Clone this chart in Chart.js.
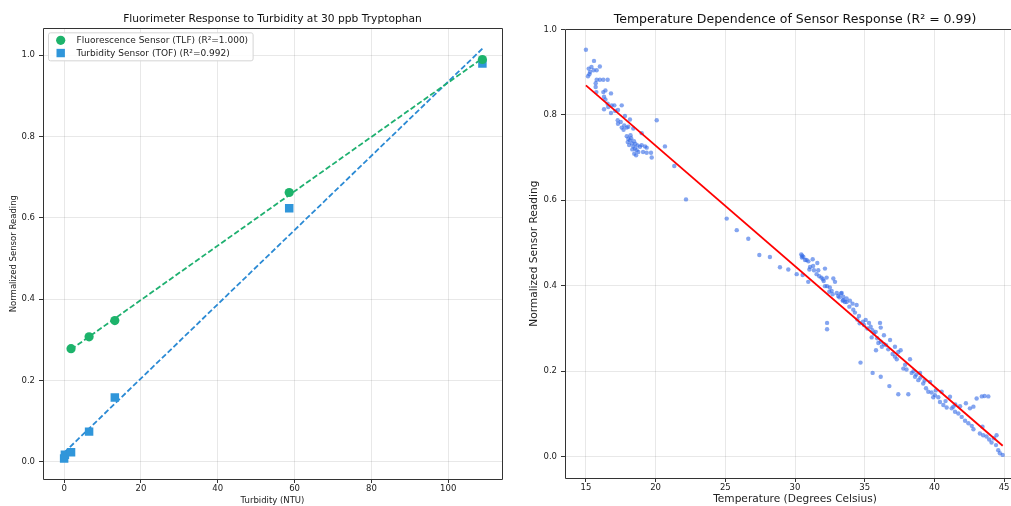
<!DOCTYPE html>
<html>
<head>
<meta charset="utf-8">
<script src="https://cdn.jsdelivr.net/npm/chart.js@4.4.1/dist/chart.umd.min.js"></script>
<style>
html, body { margin: 0; padding: 0; background: #fff; overflow: hidden; width: 1011px; height: 506px; }
#left { position: absolute; left: 0; top: 0; }
#rightWrap { position: absolute; left: 515px; top: 0; width: 496px; height: 506px; overflow: hidden; }
#right { position: absolute; left: 0; top: 0; }
</style>
</head>
<body>
<canvas id="left" width="510" height="506"></canvas>
<div id="rightWrap"><canvas id="right" width="520" height="506"></canvas></div>
<script>
// --- left chart data (turbidity response) ---
const tlfTurbidity = [1.8, 6.5, 13.2, 58.6, 108.9];
const tlfReading   = [0.278, 0.307, 0.347, 0.662, 0.989];
const tofTurbidity = [0, 0.2, 1.8, 6.5, 13.2, 58.6, 108.9];
const tofReading   = [0.008, 0.017, 0.023, 0.074, 0.158, 0.623, 0.979];
const tlfLabel = "Fluorescence Sensor (TLF) (R\u00b2=1.000)";
const tofLabel = "Turbidity Sensor (TOF) (R\u00b2=0.992)";
const leftXTicks = [0, 20, 40, 60, 80, 100];
const leftYTicks = [0, 0.2, 0.4, 0.6, 0.8, 1.0];

// --- right chart data (temperature dependence) ---
const tempC = [
  15.0, 15.58, 16.0, 15.2, 15.3, 15.25, 15.4, 15.55, 15.77, 15.15,
  15.77, 16.0, 16.25, 16.56, 15.7, 15.7, 15.75, 16.25, 16.4, 16.8,
  16.3, 16.4, 16.56, 16.6, 16.3, 16.85, 17.04, 17.57, 16.8, 17.1,
  17.3, 17.28, 17.3, 17.5, 17.8, 18.16, 17.57, 17.7, 17.93, 18.04,
  17.75, 18.4, 19.0, 20.08,
  17.93, 18.04, 18.16, 18.0, 18.3, 18.4, 18.1, 18.52, 18.64, 18.33,
  18.47, 18.76, 18.88, 19.0, 19.24, 19.36, 19.1, 19.36, 19.67, 19.72,
  18.6, 18.2, 18.45, 18.7, 18.25, 18.55, 20.67, 21.34, 22.18,
  25.1, 25.82, 26.65, 27.44, 28.2, 28.92, 29.52, 30.12, 30.55, 30.95,
  30.45, 30.52, 30.6, 30.5, 30.83, 30.72, 30.96, 31.27, 31.6, 32.15,
  31.08, 31.03, 31.3, 31.36, 31.67, 31.55, 31.74, 31.9, 32.0, 32.27,
  32.06, 32.3, 32.5, 32.15, 32.63, 32.75, 32.87, 32.46, 32.7, 33.0,
  33.1, 33.35, 33.18, 33.46, 33.7, 32.3, 32.3,
  33.3, 33.46, 33.7, 33.58, 33.94, 34.13, 34.42, 33.9, 34.18, 34.3,
  33.42, 34.59, 34.47, 34.64, 34.88, 35.07, 34.95, 35.31, 35.43, 35.19,
  35.55, 35.67, 35.79, 35.5, 35.9, 35.98, 36.15, 36.39, 36.23, 36.53,
  36.69, 35.81, 36.82, 36.15, 36.38, 36.1, 37.17, 37.41, 37.58, 37.17,
  37.77, 38.0, 38.25, 38.37, 38.61, 38.97, 38.85, 39.2, 39.4, 39.69,
  39.56, 39.8, 40.04, 39.92, 40.28, 40.4, 40.64, 40.52, 41.12, 40.88,
  41.24, 41.48, 41.36, 41.84, 41.72, 41.96, 42.2, 42.44, 42.68, 42.8,
  42.26, 42.55, 42.8, 43.03, 43.4, 43.6, 43.87, 43.45, 43.26, 43.5,
  43.74, 43.93, 44.1, 44.27, 44.42, 44.58, 44.7, 44.9, 44.46,
  37.0, 37.3, 37.9, 38.5, 39.0, 39.3, 38.7, 40.1, 40.8, 41.5,
  34.7, 35.57, 36.15, 36.77, 37.41, 38.13
];
const reading = [
  0.952, 0.926, 0.913, 0.908, 0.900, 0.895, 0.912, 0.904, 0.904, 0.890,
  0.882, 0.882, 0.882, 0.882, 0.874, 0.865, 0.853, 0.853, 0.857, 0.850,
  0.842, 0.836, 0.826, 0.818, 0.813, 0.822, 0.822, 0.822, 0.804, 0.809,
  0.811, 0.787, 0.779, 0.783, 0.797, 0.789, 0.770, 0.765, 0.770, 0.772,
  0.775, 0.768, 0.757, 0.787,
  0.750, 0.744, 0.740, 0.736, 0.733, 0.726, 0.729, 0.721, 0.717, 0.719,
  0.709, 0.713, 0.725, 0.729, 0.726, 0.723, 0.713, 0.711, 0.711, 0.700,
  0.705, 0.752, 0.738, 0.728, 0.745, 0.732, 0.726, 0.680, 0.602,
  0.557, 0.530, 0.510, 0.472, 0.467, 0.443, 0.438, 0.427, 0.425, 0.409,
  0.473, 0.470, 0.467, 0.466, 0.460, 0.460, 0.457, 0.462, 0.453, 0.440,
  0.444, 0.438, 0.446, 0.436, 0.436, 0.427, 0.422, 0.419, 0.415, 0.419,
  0.411, 0.399, 0.396, 0.399, 0.388, 0.417, 0.409, 0.386, 0.380, 0.383,
  0.376, 0.383, 0.373, 0.366, 0.362, 0.313, 0.298,
  0.382, 0.374, 0.370, 0.362, 0.365, 0.358, 0.355, 0.351, 0.344, 0.337,
  0.365, 0.329, 0.321, 0.312, 0.316, 0.320, 0.308, 0.313, 0.304, 0.300,
  0.296, 0.288, 0.292, 0.279, 0.277, 0.266, 0.269, 0.263, 0.257, 0.261,
  0.251, 0.249, 0.273, 0.302, 0.284, 0.313, 0.257, 0.245, 0.249, 0.234,
  0.206, 0.204, 0.228, 0.196, 0.187, 0.196, 0.179, 0.171, 0.160, 0.175,
  0.152, 0.150, 0.144, 0.139, 0.139, 0.128, 0.121, 0.152, 0.140, 0.115,
  0.113, 0.105, 0.117, 0.118, 0.101, 0.093, 0.084, 0.078, 0.072, 0.064,
  0.125, 0.113, 0.117, 0.136, 0.141, 0.142, 0.141, 0.070, 0.054, 0.050,
  0.047, 0.040, 0.033, 0.043, 0.027, 0.015, 0.008, 0.004, 0.050,
  0.240, 0.228, 0.215, 0.200, 0.185, 0.178, 0.192, 0.155, 0.130, 0.122,
  0.220, 0.196, 0.187, 0.165, 0.146, 0.146
];
const rightTitle = "Temperature Dependence of Sensor Response (R\u00b2 = 0.99)";
const rightXTicks = [15, 20, 25, 30, 35, 40, 45];
const rightYTicks = [0, 0.2, 0.4, 0.6, 0.8, 1.0];

Chart.defaults.font.family = "'DejaVu Sans', sans-serif";
Chart.defaults.color = '#222';

const toPoints = (xs, ys) => xs.map((x, i) => ({x, y: ys[i]}));

// least squares line across the x range of the data
function fitLine(xs, ys) {
  const n = xs.length;
  const mx = xs.reduce((a, b) => a + b, 0) / n;
  const my = ys.reduce((a, b) => a + b, 0) / n;
  let sxy = 0, sxx = 0;
  xs.forEach((x, i) => { sxy += (x - mx) * (ys[i] - my); sxx += (x - mx) * (x - mx); });
  const m = sxy / sxx, b = my - m * mx;
  const x0 = Math.min(...xs), x1 = Math.max(...xs);
  return [{x: x0, y: m * x0 + b}, {x: x1, y: m * x1 + b}];
}

const fixedTicks = arr => scale => { scale.ticks = arr.map(v => ({value: v})); };

// axes box; the right chart's right spine lies outside the visible page
const framePlugin = {
  id: 'frame',
  afterDatasetsDraw(chart, args, opts) {
    const {ctx, chartArea: a} = chart;
    const l = Math.round(a.left) + 0.5, t = Math.round(a.top) + 0.5;
    const r = Math.round(a.right) + 0.5, b = Math.round(a.bottom) + 0.5;
    ctx.save();
    ctx.strokeStyle = '#333';
    ctx.lineWidth = 1;
    ctx.beginPath();
    ctx.moveTo(r, t); ctx.lineTo(l, t); ctx.lineTo(l, b); ctx.lineTo(r, b);
    if (opts.right !== false) ctx.lineTo(r, t);
    ctx.stroke();
    ctx.restore();
  }
};

const boxLegend = {
  id: 'boxLegend',
  afterDraw(chart) {
    const {ctx, chartArea: a} = chart;
    const items = chart.data.datasets.filter(d => d.inLegend);
    ctx.save();
    ctx.font = "9px 'DejaVu Sans'";
    const tw = Math.max(...items.map(d => ctx.measureText(d.label).width));
    const x0 = a.left + 5, y0 = a.top + 4, w = 29 + tw + 4, h = 28;
    ctx.fillStyle = 'rgba(255,255,255,0.85)';
    ctx.strokeStyle = '#d4d4d4';
    ctx.lineWidth = 1;
    ctx.beginPath();
    ctx.roundRect(x0 + 0.5, y0 + 0.5, w, h, 2);
    ctx.fill();
    ctx.stroke();
    items.forEach((d, i) => {
      const cy = y0 + 8 + i * 12.7, cx = x0 + 12.7;
      ctx.fillStyle = d.backgroundColor;
      ctx.beginPath();
      if (d.pointStyle === 'rect') ctx.rect(cx - 4.2, cy - 4.2, 8.4, 8.4);
      else ctx.arc(cx, cy, 4.6, 0, Math.PI * 2);
      ctx.fill();
      ctx.fillStyle = '#222';
      ctx.textBaseline = 'middle';
      ctx.fillText(d.label, x0 + 28.5, cy + 0.5);
    });
    ctx.restore();
  }
};

const gridCfg = {color: 'rgba(0,0,0,0.09)', tickColor: '#333', tickLength: 4};

// ---------- left chart ----------
new Chart(document.getElementById('left'), {
  type: 'scatter',
  data: {
    datasets: [
      {label: tlfLabel, inLegend: true, data: toPoints(tlfTurbidity, tlfReading),
       backgroundColor: '#1db36b', borderWidth: 0, pointRadius: 4.6, pointStyle: 'circle'},
      {label: tofLabel, inLegend: true, data: toPoints(tofTurbidity, tofReading),
       backgroundColor: '#3096da', borderWidth: 0, pointRadius: 6, pointStyle: 'rect'},
      {label: 'tlf fit', data: fitLine(tlfTurbidity, tlfReading), showLine: true, pointRadius: 0,
       borderColor: '#1fb070', borderWidth: 1.8, borderDash: [5.5, 2.5]},
      {label: 'tof fit', data: fitLine(tofTurbidity, tofReading), showLine: true, pointRadius: 0,
       borderColor: '#2b8ad4', borderWidth: 1.8, borderDash: [5.5, 2.5]}
    ]
  },
  options: {
    responsive: false,
    animation: false,
    layout: {padding: {left: 0, right: 8, top: 0, bottom: 0}},
    plugins: {
      legend: {display: false},
      tooltip: {enabled: false},
      title: {display: true, text: 'Fluorimeter Response to Turbidity at 30 ppb Tryptophan',
              fullSize: false, color: '#111', font: {size: 10.7, weight: 'normal'},
              padding: {top: 12.5, bottom: 3}}
    },
    scales: {
      x: {
        type: 'linear', min: -5.5, max: 114,
        afterBuildTicks: fixedTicks(leftXTicks),
        afterFit: s => { s.height = 27; },
        ticks: {padding: 1, font: {size: 8.5}, callback: v => v},
        grid: gridCfg, border: {display: false},
        title: {display: true, text: 'Turbidity (NTU)', font: {size: 8.5}, padding: {top: 0, bottom: 0}}
      },
      y: {
        type: 'linear', min: -0.0425, max: 1.0656,
        afterBuildTicks: fixedTicks(leftYTicks),
        afterFit: s => { s.width = 43; },
        ticks: {padding: 4, font: {size: 8.5}, callback: v => v.toFixed(1)},
        grid: gridCfg, border: {display: false},
        title: {display: true, text: 'Normalized Sensor Reading', font: {size: 8.5}, padding: {top: 9, bottom: 0}}
      }
    }
  },
  plugins: [framePlugin, boxLegend]
});

// ---------- right chart ----------
new Chart(document.getElementById('right'), {
  type: 'scatter',
  data: {
    datasets: [
      {label: 'fit', data: fitLine(tempC, reading), showLine: true, pointRadius: 0,
       borderColor: '#f00', borderWidth: 1.8},
      {label: 'readings', data: toPoints(tempC, reading),
       backgroundColor: 'rgba(50,105,230,0.6)', borderWidth: 0, pointRadius: 2.2}
    ]
  },
  options: {
    responsive: false,
    animation: false,
    layout: {padding: {left: 0, right: 10, top: 0, bottom: 0}},
    plugins: {
      legend: {display: false},
      tooltip: {enabled: false},
      frame: {right: false},
      title: {display: true, text: rightTitle, fullSize: false, color: '#111',
              font: {size: 12.5, weight: 'normal'}, padding: {top: 12.3, bottom: 2}}
    },
    scales: {
      x: {
        type: 'linear', min: 13.5, max: 46.5,
        afterBuildTicks: fixedTicks(rightXTicks),
        afterFit: s => { s.height = 28; },
        ticks: {padding: 1, font: {size: 8.5}, callback: v => v},
        grid: gridCfg, border: {display: false},
        title: {display: true, text: 'Temperature (Degrees Celsius)', font: {size: 10.6}, padding: {top: 0, bottom: 0.3}}
      },
      y: {
        type: 'linear', min: -0.05, max: 1.0,
        afterBuildTicks: fixedTicks(rightYTicks),
        afterFit: s => { s.width = 50; },
        ticks: {padding: 4, font: {size: 8.5}, callback: v => v.toFixed(1)},
        grid: gridCfg, border: {display: false},
        title: {display: true, text: 'Normalized Sensor Reading', font: {size: 10.6}, padding: {top: 12.5, bottom: 0}}
      }
    }
  },
  plugins: [framePlugin]
});
</script>
</body>
</html>
